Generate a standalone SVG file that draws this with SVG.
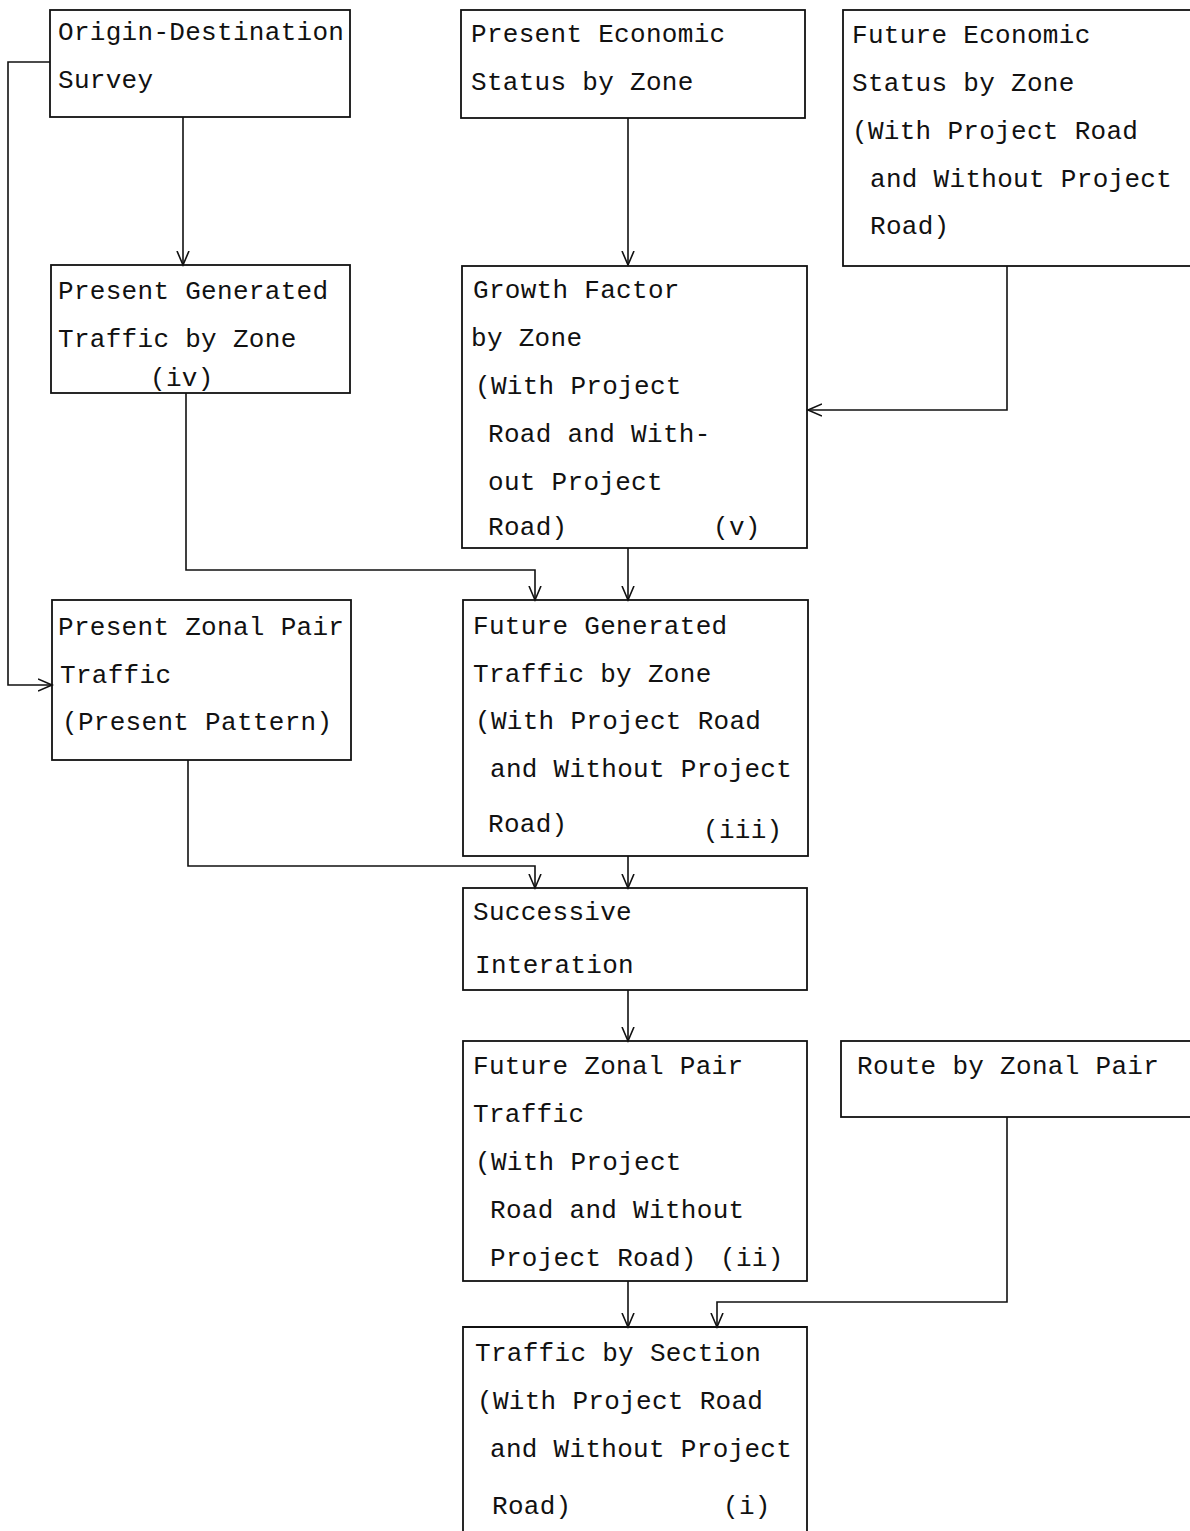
<svg xmlns="http://www.w3.org/2000/svg" width="1190" height="1531" viewBox="0 0 1190 1531">
<style>
.box{fill:none;stroke:#111;stroke-width:1.8}
.t{font-family:"Liberation Mono","Courier New",monospace;font-size:26px;fill:#111;letter-spacing:0.3px}
.c{fill:none;stroke:#111;stroke-width:1.6}
</style>
<defs>
<marker id="ah" markerWidth="20" markerHeight="20" refX="14" refY="8" orient="auto" markerUnits="userSpaceOnUse">
<path d="M0,2 L14,8 L0,14" fill="none" stroke="#111" stroke-width="1.6"/>
</marker>
</defs>
<rect width="1190" height="1531" fill="#fff"/>
<g id="connectors">
<path class="c" d="M183,117 V265" marker-end="url(#ah)"/>
<path class="c" d="M628,118 V265" marker-end="url(#ah)"/>
<path class="c" d="M1007,266 V410 H808" marker-end="url(#ah)"/>
<path class="c" d="M50,62 H8 V685 H52" marker-end="url(#ah)"/>
<path class="c" d="M186,393 V570 H535 V600" marker-end="url(#ah)"/>
<path class="c" d="M628,548 V600" marker-end="url(#ah)"/>
<path class="c" d="M188,760 V866 H535 V888" marker-end="url(#ah)"/>
<path class="c" d="M628,856 V888" marker-end="url(#ah)"/>
<path class="c" d="M628,990 V1041" marker-end="url(#ah)"/>
<path class="c" d="M628,1281 V1327" marker-end="url(#ah)"/>
<path class="c" d="M1007,1117 V1302 H717 V1327" marker-end="url(#ah)"/>
</g>
<g id="n1"><rect class="box" x="50" y="10" width="300" height="107"/>
<text class="t" x="58" y="40">Origin-Destination</text><text class="t" x="58" y="88">Survey</text></g>
<g id="n2"><rect class="box" x="461" y="10" width="344" height="108"/>
<text class="t" x="471" y="42">Present Economic</text><text class="t" x="471" y="90">Status by Zone</text></g>
<g id="n3"><rect class="box" x="843" y="10" width="350" height="256"/>
<text class="t" x="852" y="43">Future Economic</text><text class="t" x="852" y="91">Status by Zone</text><text class="t" x="852" y="139">(With Project Road</text><text class="t" x="870" y="187">and Without Project</text><text class="t" x="870" y="234">Road)</text></g>
<g id="n4"><rect class="box" x="51" y="265" width="299" height="128"/>
<text class="t" x="58" y="299">Present Generated</text><text class="t" x="58" y="347">Traffic by Zone</text><text class="t" x="150" y="386">(iv)</text></g>
<g id="n5"><rect class="box" x="462" y="266" width="345" height="282"/>
<text class="t" x="473" y="298">Growth Factor</text><text class="t" x="471" y="346">by Zone</text><text class="t" x="475" y="394">(With Project</text><text class="t" x="488" y="442">Road and With-</text><text class="t" x="488" y="490">out Project</text><text class="t" x="488" y="535">Road)</text><text class="t" x="713" y="535">(v)</text></g>
<g id="n6"><rect class="box" x="52" y="600" width="299" height="160"/>
<text class="t" x="58" y="635">Present Zonal Pair</text><text class="t" x="60" y="683">Traffic</text><text class="t" x="62" y="730">(Present Pattern)</text></g>
<g id="n7"><rect class="box" x="463" y="600" width="345" height="256"/>
<text class="t" x="473" y="634">Future Generated</text><text class="t" x="473" y="682">Traffic by Zone</text><text class="t" x="475" y="729">(With Project Road</text><text class="t" x="490" y="777">and Without Project</text><text class="t" x="488" y="832">Road)</text><text class="t" x="703" y="838">(iii)</text></g>
<g id="n8"><rect class="box" x="463" y="888" width="344" height="102"/>
<text class="t" x="473" y="920">Successive</text><text class="t" x="475" y="973">Interation</text></g>
<g id="n9"><rect class="box" x="463" y="1041" width="344" height="240"/>
<text class="t" x="473" y="1074">Future Zonal Pair</text><text class="t" x="473" y="1122">Traffic</text><text class="t" x="475" y="1170">(With Project</text><text class="t" x="490" y="1218">Road and Without</text><text class="t" x="490" y="1266">Project Road)</text><text class="t" x="720" y="1266">(ii)</text></g>
<g id="n10"><rect class="box" x="841" y="1041" width="352" height="76"/>
<text class="t" x="857" y="1074">Route by Zonal Pair</text></g>
<g id="n11"><path class="box" d="M463,1535 V1327 H807 V1535"/>
<text class="t" x="475" y="1361">Traffic by Section</text><text class="t" x="477" y="1409">(With Project Road</text><text class="t" x="490" y="1457">and Without Project</text><text class="t" x="492" y="1514">Road)</text><text class="t" x="723" y="1514">(i)</text></g>
</svg>
